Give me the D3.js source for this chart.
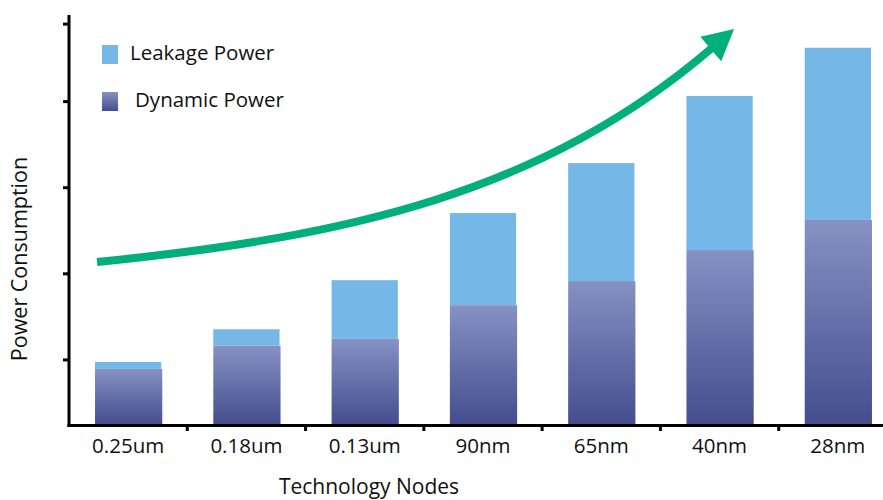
<!DOCTYPE html>
<html>
<head>
<meta charset="utf-8">
<script src="https://cdn.jsdelivr.net/npm/d3@7"></script>
<style>
  html, body { margin: 0; padding: 0; background: #fff; }
  svg { display: block; }
  text { font-family: "Open Sans", "Noto Sans", sans-serif; fill: #111; }
</style>
</head>
<body>
<svg id="chart" width="883" height="500"></svg>
<script>
// Technology nodes on the x axis
const nodes = ["0.25um", "0.18um", "0.13um", "90nm", "65nm", "40nm", "28nm"];
// Stacked power components (relative units)
const dynamicPower = [0.64, 0.91, 0.99, 1.38, 1.66, 2.02, 2.37];
const leakagePower = [0.08, 0.19, 0.68, 1.07, 1.37, 1.79, 2.00];
// Unlabelled tick positions on the y axis
const yTicks = [0.75, 1.75, 2.75, 3.75, 4.65];
// Trend arrow as one cubic curve: start, two control points, end, then arrow tip
// each given as [category position, power level]
const trendCurve = [[-0.263, 1.881], [1.851, 2.172], [3.508, 2.680], [4.945, 4.378]];
const trendTip = [5.123, 4.587];

const svg = d3.select("#chart");
const axisLeft = 69, axisBottom = 424;

const x = d3.scaleBand().domain(nodes).range([axisLeft, 897]).paddingInner(0.44).paddingOuter(0.22);
const y = d3.scaleLinear().domain([0, 4.75]).range([axisBottom, 15]);
// continuous position along the categories (index -> bar centre)
const xPos = d3.scaleLinear().domain([0, 1])
  .range([x(nodes[0]) + x.bandwidth() / 2, x(nodes[1]) + x.bandwidth() / 2]);

const defs = svg.append("defs");
const grad = defs.append("linearGradient").attr("id", "dynGrad")
  .attr("x1", 0).attr("y1", 0).attr("x2", 0).attr("y2", 1);
grad.append("stop").attr("offset", "0%").attr("stop-color", "#8592c3");
grad.append("stop").attr("offset", "100%").attr("stop-color", "#444e8f");

const rows = nodes.map((n, i) => ({ node: n, dyn: dynamicPower[i], leak: leakagePower[i] }));

// Leakage on top of dynamic
svg.append("g").selectAll("rect.leak").data(rows).join("rect")
  .attr("class", "leak")
  .attr("x", d => x(d.node))
  .attr("width", x.bandwidth())
  .attr("y", d => y(d.dyn + d.leak))
  .attr("height", d => y(d.dyn) - y(d.dyn + d.leak))
  .attr("fill", "#75b7e6");

svg.append("g").selectAll("rect.dyn").data(rows).join("rect")
  .attr("class", "dyn")
  .attr("x", d => x(d.node))
  .attr("width", x.bandwidth() + 1)
  .attr("y", d => y(d.dyn))
  .attr("height", d => y(0) - y(d.dyn))
  .attr("fill", "url(#dynGrad)");

// Y axis
const yAxis = svg.append("g").attr("transform", `translate(${axisLeft},0)`)
  .call(d3.axisLeft(y).tickValues(yTicks).tickSize(6).tickFormat(""));
yAxis.select(".domain").remove();
yAxis.selectAll(".tick line").attr("stroke", "#000").attr("stroke-width", 3);
svg.append("line").attr("x1", axisLeft).attr("x2", axisLeft)
  .attr("y1", 15).attr("y2", axisBottom + 3)
  .attr("stroke", "#000").attr("stroke-width", 3);

// X axis with ticks between categories
const boundaries = nodes.slice(1).map(n => x(n) - x.step() * x.paddingInner() / 2);
const xAxis = svg.append("g").attr("transform", `translate(0,${axisBottom + 1.5})`)
  .call(d3.axisBottom(x).tickSize(0).tickPadding(0));
xAxis.select(".domain").remove();
xAxis.selectAll(".tick text")
  .attr("dy", null).attr("y", 27.5)
  .style("font-family", '"Open Sans", "Noto Sans", sans-serif')
  .style("font-size", "20.5px").attr("fill", "#111");
svg.append("line").attr("x1", axisLeft - 1.5).attr("x2", 883)
  .attr("y1", axisBottom + 1.5).attr("y2", axisBottom + 1.5)
  .attr("stroke", "#000").attr("stroke-width", 3);
svg.append("g").selectAll("line").data(boundaries).join("line")
  .attr("x1", d => d).attr("x2", d => d)
  .attr("y1", axisBottom + 1.5).attr("y2", axisBottom + 7)
  .attr("stroke", "#000").attr("stroke-width", 3);

// Axis titles
svg.append("text").attr("x", 369).attr("y", 494).attr("text-anchor", "middle")
  .style("font-size", "21px").text("Technology Nodes");
svg.append("text").attr("transform", "translate(26.5,259) rotate(-90)")
  .attr("text-anchor", "middle").style("font-size", "21.5px").text("Power Consumption");

// Legend
const legend = [
  { label: "Leakage Power", fill: "#75b7e6", y: 45, tx: 130, by: 59.5 },
  { label: "Dynamic Power", fill: "url(#dynGrad)", y: 92, tx: 135, by: 107.3 }
];
const lg = svg.append("g").selectAll("g").data(legend).join("g");
lg.append("rect").attr("x", 102).attr("y", d => d.y).attr("width", 16).attr("height", 19)
  .attr("fill", d => d.fill);
lg.append("text").attr("x", d => d.tx).attr("y", d => d.by)
  .style("font-size", "20.5px").text(d => d.label);

// Trend arrow
const cp = trendCurve.map(([i, v]) => [xPos(i), y(v)]);
const curve = d3.path();
curve.moveTo(cp[0][0], cp[0][1]);
curve.bezierCurveTo(cp[1][0], cp[1][1], cp[2][0], cp[2][1], cp[3][0], cp[3][1]);
svg.append("path")
  .attr("d", curve.toString())
  .attr("fill", "none").attr("stroke", "#00af7b").attr("stroke-width", 8);
const end = cp[3];
const tip = [xPos(trendTip[0]), y(trendTip[1])];
const dx = tip[0] - end[0], dy = tip[1] - end[1];
const len = Math.hypot(dx, dy);
const px = -dy / len * 16, py = dx / len * 16;
const back = [end[0] - dx / len * 3, end[1] - dy / len * 3];
svg.append("path")
  .attr("d", `M${tip[0]},${tip[1]}L${back[0] + px},${back[1] + py}L${back[0] - px},${back[1] - py}Z`)
  .attr("fill", "#00af7b");
</script>
</body>
</html>
